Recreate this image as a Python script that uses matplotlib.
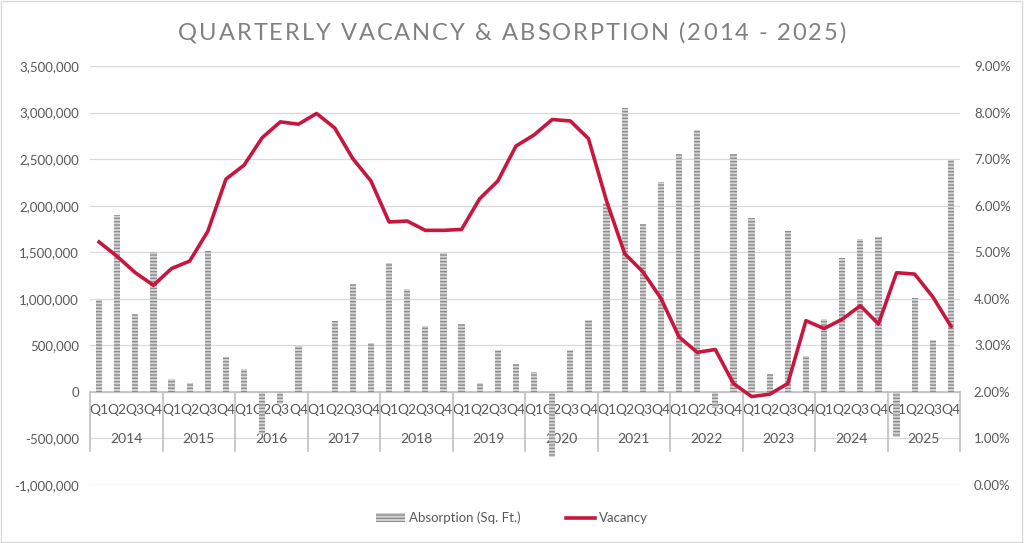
"""Quarterly vacancy & absorption 2014-2025: hatched absorption bars + vacancy line on twin axis."""
import numpy as np, matplotlib; matplotlib.use('Agg')
import matplotlib.pyplot as plt
from matplotlib.patches import Patch, Rectangle
from matplotlib.lines import Line2D

plt.rcParams['font.family'] = ['Lato', 'DejaVu Sans']

years = [str(y) for y in range(2014, 2026)]
quarters = ['Q1', 'Q2', 'Q3', 'Q4']
absorption = [990000, 1900000, 835000, 1500000,
              140000, 100000, 1510000, 380000,
              250000, -450000, -130000, 495000,
              0, 765000, 1160000, 530000,
              1380000, 1105000, 710000, 1495000,
              730000, 95000, 445000, 295000,
              210000, -700000, 450000, 775000,
              2030000, 3050000, 1800000, 2255000,
              2560000, 2810000, -175000, 2560000,
              1865000, 195000, 1730000, 385000,
              785000, 1440000, 1640000, 1660000,
              -485000, 1005000, 560000, 2490000]
vacancy = [5.22, 4.91, 4.56, 4.29,
           4.65, 4.81, 5.45, 6.57,
           6.87, 7.46, 7.80, 7.75,
           7.98, 7.67, 7.01, 6.53,
           5.65, 5.67, 5.47, 5.47,
           5.49, 6.15, 6.53, 7.28,
           7.52, 7.85, 7.82, 7.44,
           6.10, 4.97, 4.58, 4.01,
           3.18, 2.85, 2.91, 2.18,
           1.90, 1.95, 2.18, 3.53,
           3.36, 3.56, 3.85, 3.46,
           4.56, 4.53, 4.04, 3.41]
left_ticks = list(range(-1000000, 3500001, 500000))
right_ticks = list(range(0, 10))

GREY_TXT = '#595959'; GRID = '#d9d9d9'; AXIS = '#bfbfbf'; RED = '#c8173f'
plt.rcParams['hatch.color'] = '#8c8c8c'
plt.rcParams['hatch.linewidth'] = 1.0

fig = plt.figure(figsize=(10.24, 5.43), dpi=100)
fig.patches.append(Rectangle((0.001, 0.001), 0.997, 0.997, transform=fig.transFigure,
                             fill=False, ec=GRID, lw=1))
ax = fig.add_axes([90/1024, 1-485/543, 870/1024, 419/543])
ax2 = ax.twinx()
x = np.arange(len(absorption))

ax.set_xlim(-0.5, len(x) - 0.5)
ax.set_ylim(-1000000, 3500000)
ax.set_yticks(left_ticks)
ax.set_yticklabels([f'{v:,.0f}' for v in left_ticks])
ax.grid(axis='y', color=GRID, lw=0.9, zorder=0)
ax.set_axisbelow(True)
ax.bar(x, absorption, width=0.34, color='#d4d4d4', edgecolor='#8c8c8c', lw=0,
       hatch='-----', zorder=2)
ax.axhline(0, color=AXIS, lw=1.2, zorder=1)

ax2.set_ylim(0, 9)
ax2.set_yticks(right_ticks)
ax2.set_yticklabels([f'{v:.2f}%' for v in right_ticks])
ax2.plot(x, vacancy, color=RED, lw=2.6, solid_joinstyle='round', zorder=3)

for a in (ax, ax2):
    for s in a.spines.values():
        s.set_visible(False)
    a.tick_params(length=0, labelsize=9.5, labelcolor=GREY_TXT)
ax.tick_params(axis='y', pad=8)
ax2.tick_params(axis='y', pad=10)
ax.set_xticks([])

# two-level category labels hanging off the zero line
for i in x:
    ax.annotate(quarters[i % 4], (i, 0), xytext=(0, -13), textcoords='offset points',
                ha='center', va='center', fontsize=10, color=GREY_TXT, zorder=1)
for k, yr in enumerate(years):
    ax.annotate(yr, (4*k + 1.5, 0), xytext=(0, -34), textcoords='offset points',
                ha='center', va='center', fontsize=10, color=GREY_TXT, zorder=1)
for k in range(len(years) + 1):
    ax.plot([4*k - 0.5, 4*k - 0.5], [0, -630000], color=AXIS, lw=1.2, zorder=1,
            clip_on=False)

# letter-spaced title
title = 'QUARTERLY VACANCY & ABSORPTION (2014 - 2025)'
fig.canvas.draw(); r = fig.canvas.get_renderer()
probe = fig.text(0, 0, '', fontsize=17, color='#7f7f7f')
widths = []
for k in range(len(title) + 1):
    probe.set_text(title[:k] + '|')
    widths.append(probe.get_window_extent(r).width)
probe.set_text('|'); bar_w = probe.get_window_extent(r).width
probe.remove()
pre = [w - bar_w for w in widths]
gap = (668 - pre[-1]) / (len(title) - 1)
x0 = 178
for k, ch in enumerate(title):
    fig.text((x0 + pre[k] + k*gap) / 1024, 1 - 33/543, ch, fontsize=17, color='#808080',
             ha='left', va='center')

handles = [Patch(facecolor='#d4d4d4', edgecolor='#8c8c8c', lw=0, hatch='-----'),
           Line2D([], [], color=RED, lw=2.6)]
fig.legend(handles, ['Absorption (Sq. Ft.)', 'Vacancy'], loc='center',
           bbox_to_anchor=(0.5, 1 - 518/543), ncol=2, frameon=False, fontsize=9.5,
           labelcolor=GREY_TXT, handlelength=2.2, handletextpad=0.3, columnspacing=3.5)

fig.savefig('out.png', dpi=100)
